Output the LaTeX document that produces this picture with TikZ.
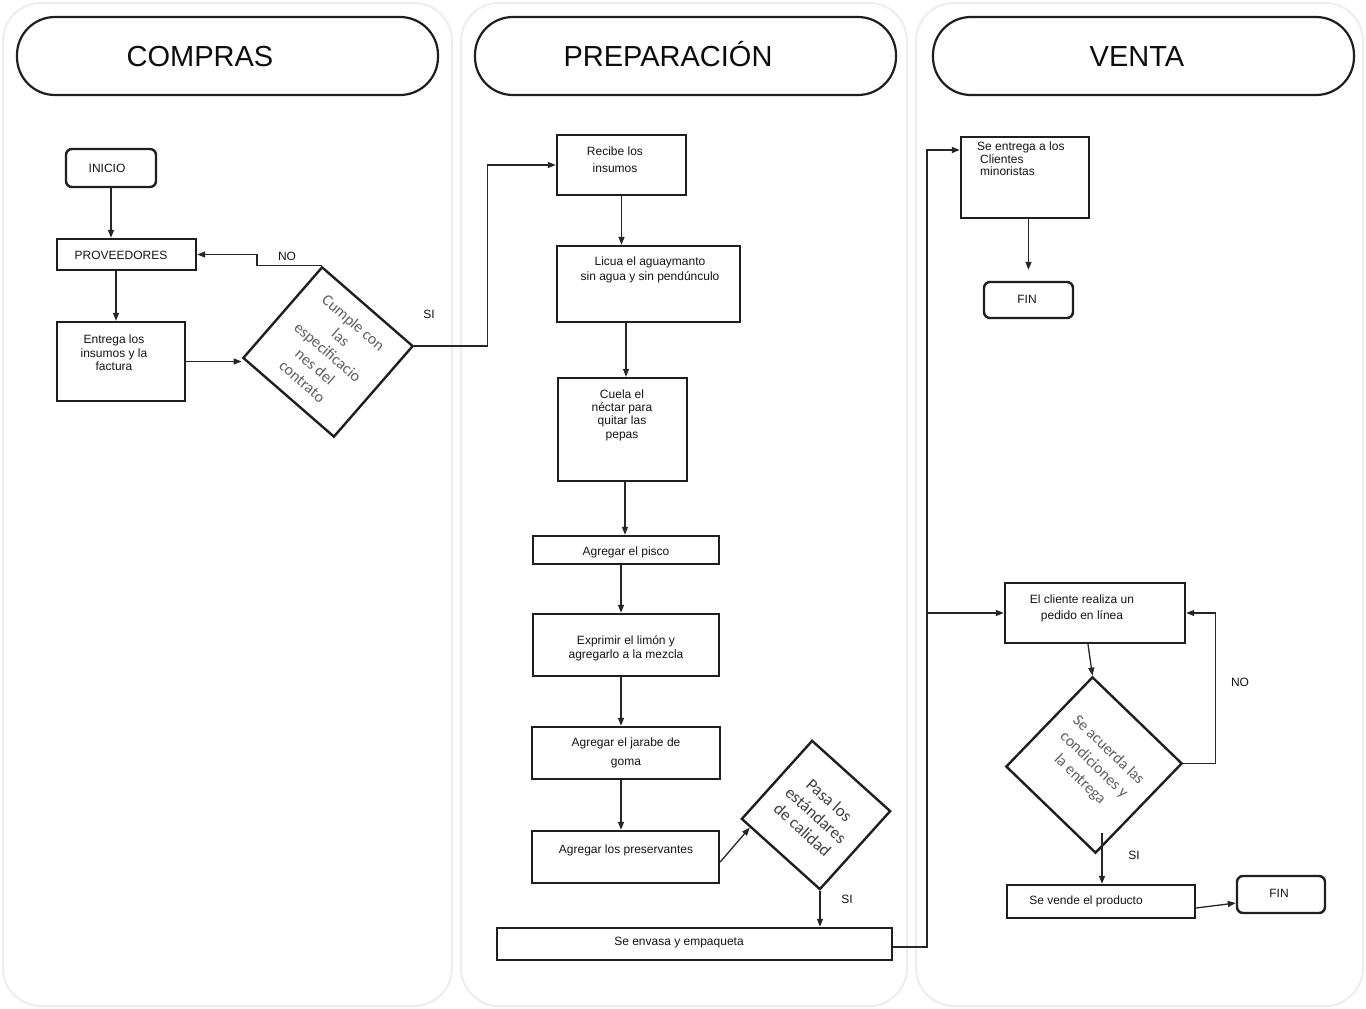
\documentclass[tikz,border=0pt]{standalone}
\usepackage{fontspec}
\setmainfont{Liberation Sans}
\newfontfamily\carl{Carlito}
\usetikzlibrary{arrows.meta,calc}
\newcommand\bx[6][box]{\node[#1, minimum width={#5-#3}, minimum height={#6-#4}] (#2) at ({(#3+#5)/2},{(#4+#6)/2}) {};}
\newcommand\fsz[2]{\fontsize{#1}{#2}\selectfont}
\begin{document}
\begin{tikzpicture}[x=1pt,y=-1pt,
 lane/.style={draw=black!7, line width=2pt, rounded corners=38pt, fill=white},
 pill/.style={draw=black!88, line width=2.2pt, rounded corners=38pt, inner sep=0pt},
 box/.style={draw=black!88, line width=2.4pt, inner sep=0pt, fill=white},
 term/.style={box, rounded corners=6pt},
 txt/.style={font=\fsz{12}{13.5}, align=center, inner sep=0pt, text=black!92},
 hd/.style={font=\fsz{29}{34}, inner sep=0pt, text=black!95, anchor=base},
 dia/.style={draw=black!88, line width=2.4pt, rectangle, inner sep=0pt, align=center, text=black!62, font=\carl\fsz{16}{19.5}},
 arr/.style={-{Triangle[length=8pt,width=6pt]}, line width=1.3pt, draw=black!85},
 lab/.style={font=\fsz{12}{14}, inner sep=0pt, text=black!92}
]
\useasboundingbox (0,0) rectangle (1366,1009);
\fill[white] (0,0) rectangle (1366,1009);
% lanes
\path[lane] (3,3) rectangle (452,1006);
\path[lane] (461,3) rectangle (907,1006);
\path[lane] (916,3) rectangle (1363,1006);
% headers
\bx[pill]{h1}{17}{17}{438}{95}
\bx[pill]{h2}{475}{17}{896}{95}
\bx[pill]{h3}{933}{17}{1354}{95}
\node[hd] (h1t) at (200,66) {COMPRAS};
\node[hd] (h2t) at (668,66.5) {PREPARACIÓN};
\node[hd] (h3t) at (1137,66.5) {VENTA};

% ---------- COMPRAS ----------
\bx[term]{inicio}{66}{149}{156}{187}
\bx{prov}{57}{239}{196}{270}
\bx{entr}{57}{322}{185}{401}
\node[dia, minimum size=120, rotate=-41] (cump) at (328,352) {Cumple con\\las\\especificacio\\nes del\\contrato};
\node[txt] (t1) at (107,168) {INICIO};
\node[txt] (t2) at (121,255) {PROVEEDORES};
\node[txt] (t3) at (114,353) {Entrega los\\insumos y la\\factura};

% ---------- PREPARACION ----------
\bx{rec}{557}{135}{686}{195}
\bx{lic}{557}{246}{740}{322}
\bx{cue}{558}{378}{687}{481}
\bx{pis}{533}{536}{719}{564}
\bx{exp}{533}{614}{719}{676}
\bx{jar}{532}{727}{720}{779}
\bx{pre}{532}{831}{719}{883}
\node[dia, minimum size=105, rotate=-42, text=black!75, font=\carl\fsz{17}{20}] (pasa) at (816,815) {Pasa los\\estándares\\de calidad};
\bx{env}{497}{928}{892}{960}
\node[txt, font=\fsz{12}{17}] (t4) at (615,160) {Recibe los\\insumos};
\node[txt, font=\fsz{12}{15}] (t5) at (650,270) {Licua el aguaymanto\\sin agua y sin pendúnculo};
\node[txt, font=\fsz{12}{13.3}] (t6) at (622,415) {Cuela el\\néctar para\\quitar las\\pepas};
\node[txt] (t7) at (626,552) {Agregar el pisco};
\node[txt, font=\fsz{12}{14}] (t8) at (626,648) {Exprimir el limón y\\agregarlo a la mezcla};
\node[txt, font=\fsz{12}{19}] (t9) at (626,753) {Agregar el jarabe de\\goma};
\node[txt] (t10) at (626,850) {Agregar los preservantes};
\node[txt] (t11) at (679,943) {Se envasa y empaqueta};

% ---------- VENTA ----------
\bx{ent}{961}{137}{1089}{218}
\bx[term]{fin1}{984}{282}{1073}{318}
\bx{cli}{1005}{583}{1185}{643}
\node[dia, minimum size=124, rotate=-44, font=\carl\fsz{16}{20.5}] (acu) at (1094,765) {Se acuerda las\\condiciones y\\la entrega};
\bx{ven}{1007}{885}{1195}{918}
\bx[term]{fin2}{1237}{876}{1325}{913}
\node[txt, font=\fsz{12}{12.5}, align=left, anchor=north west] (t12) at (977,142) {Se entrega a los\\\hspace*{3pt}Clientes\\\hspace*{3pt}minoristas};
\node[txt] (t13) at (1027,299) {FIN};
\node[txt, font=\fsz{12}{16}] (t14) at (1082,608) {El cliente realiza un\\pedido en línea};
\node[txt] (t15) at (1086,901) {Se vende el producto};
\node[txt] (t16) at (1279,893) {FIN};

% ---------- connectors ----------
\draw[arr] (inicio.south) -- (inicio.south |- prov.north);
\draw[arr] ([xshift=-5pt]entr.north |- prov.south) -- ([xshift=-5pt]entr.north);
\draw[arr] (entr.east) -- (entr.east -| cump.south west);
\draw[arr] (cump.north west) -- ++(-65,0) |- (prov.east);
\draw[arr] (cump.north east) -- ++(73,0) |- (rec.west);
\node[lab] (no1) at (287,256) {NO};
\node[lab] (si1) at (429,314) {SI};

\draw[arr] (rec.south) -- (rec.south |- lic.north);
\draw[arr] ([xshift=-22.5pt]lic.south) -- ([xshift=-22.5pt]lic.south |- cue.north);
\draw[arr] ([xshift=2.5pt]cue.south) -- ([xshift=2.5pt]cue.south |- pis.north);
\draw[arr] ([xshift=-5pt]pis.south) -- ([xshift=-5pt]pis.south |- exp.north);
\draw[arr] ([xshift=-5pt]exp.south) -- ([xshift=-5pt]exp.south |- jar.north);
\draw[arr] ([xshift=-5pt]jar.south) -- ([xshift=-5pt]jar.south |- pre.north);
\draw[arr] ([yshift=-5pt]pre.east) -- ($(pasa.south west)!0.12!(pasa.south east)$);
\draw[arr] (pasa.south east) -- (pasa.south east |- env.north);
\node[lab] (si2) at (847,899) {SI};

\coordinate (j1) at (927,150);
\coordinate (j2) at (927,613);
\draw[arr] ([yshift=-3pt]env.east) -| (j1) -- (j1 -| ent.west);
\draw[arr] (j2) -- (j2 -| cli.west);

\draw[arr, shorten >=11pt] (fin1.north |- ent.south) -- (fin1.north);
\draw[arr] ([xshift=-7pt]cli.south) -- (acu.north west);
\draw[arr] (acu.north east) -- ++(32,0) |- (cli.east);
\node[lab] (no2) at (1240,682) {NO};
\coordinate (s3) at (1102,833);
\draw[arr] (s3) -- (s3 |- ven.north);
\node[lab] (si3) at (1134,855) {SI};
\draw[arr] ([yshift=-6.5pt]ven.east) -- ([yshift=-8.5pt]fin2.west);
\end{tikzpicture}
\end{document}
